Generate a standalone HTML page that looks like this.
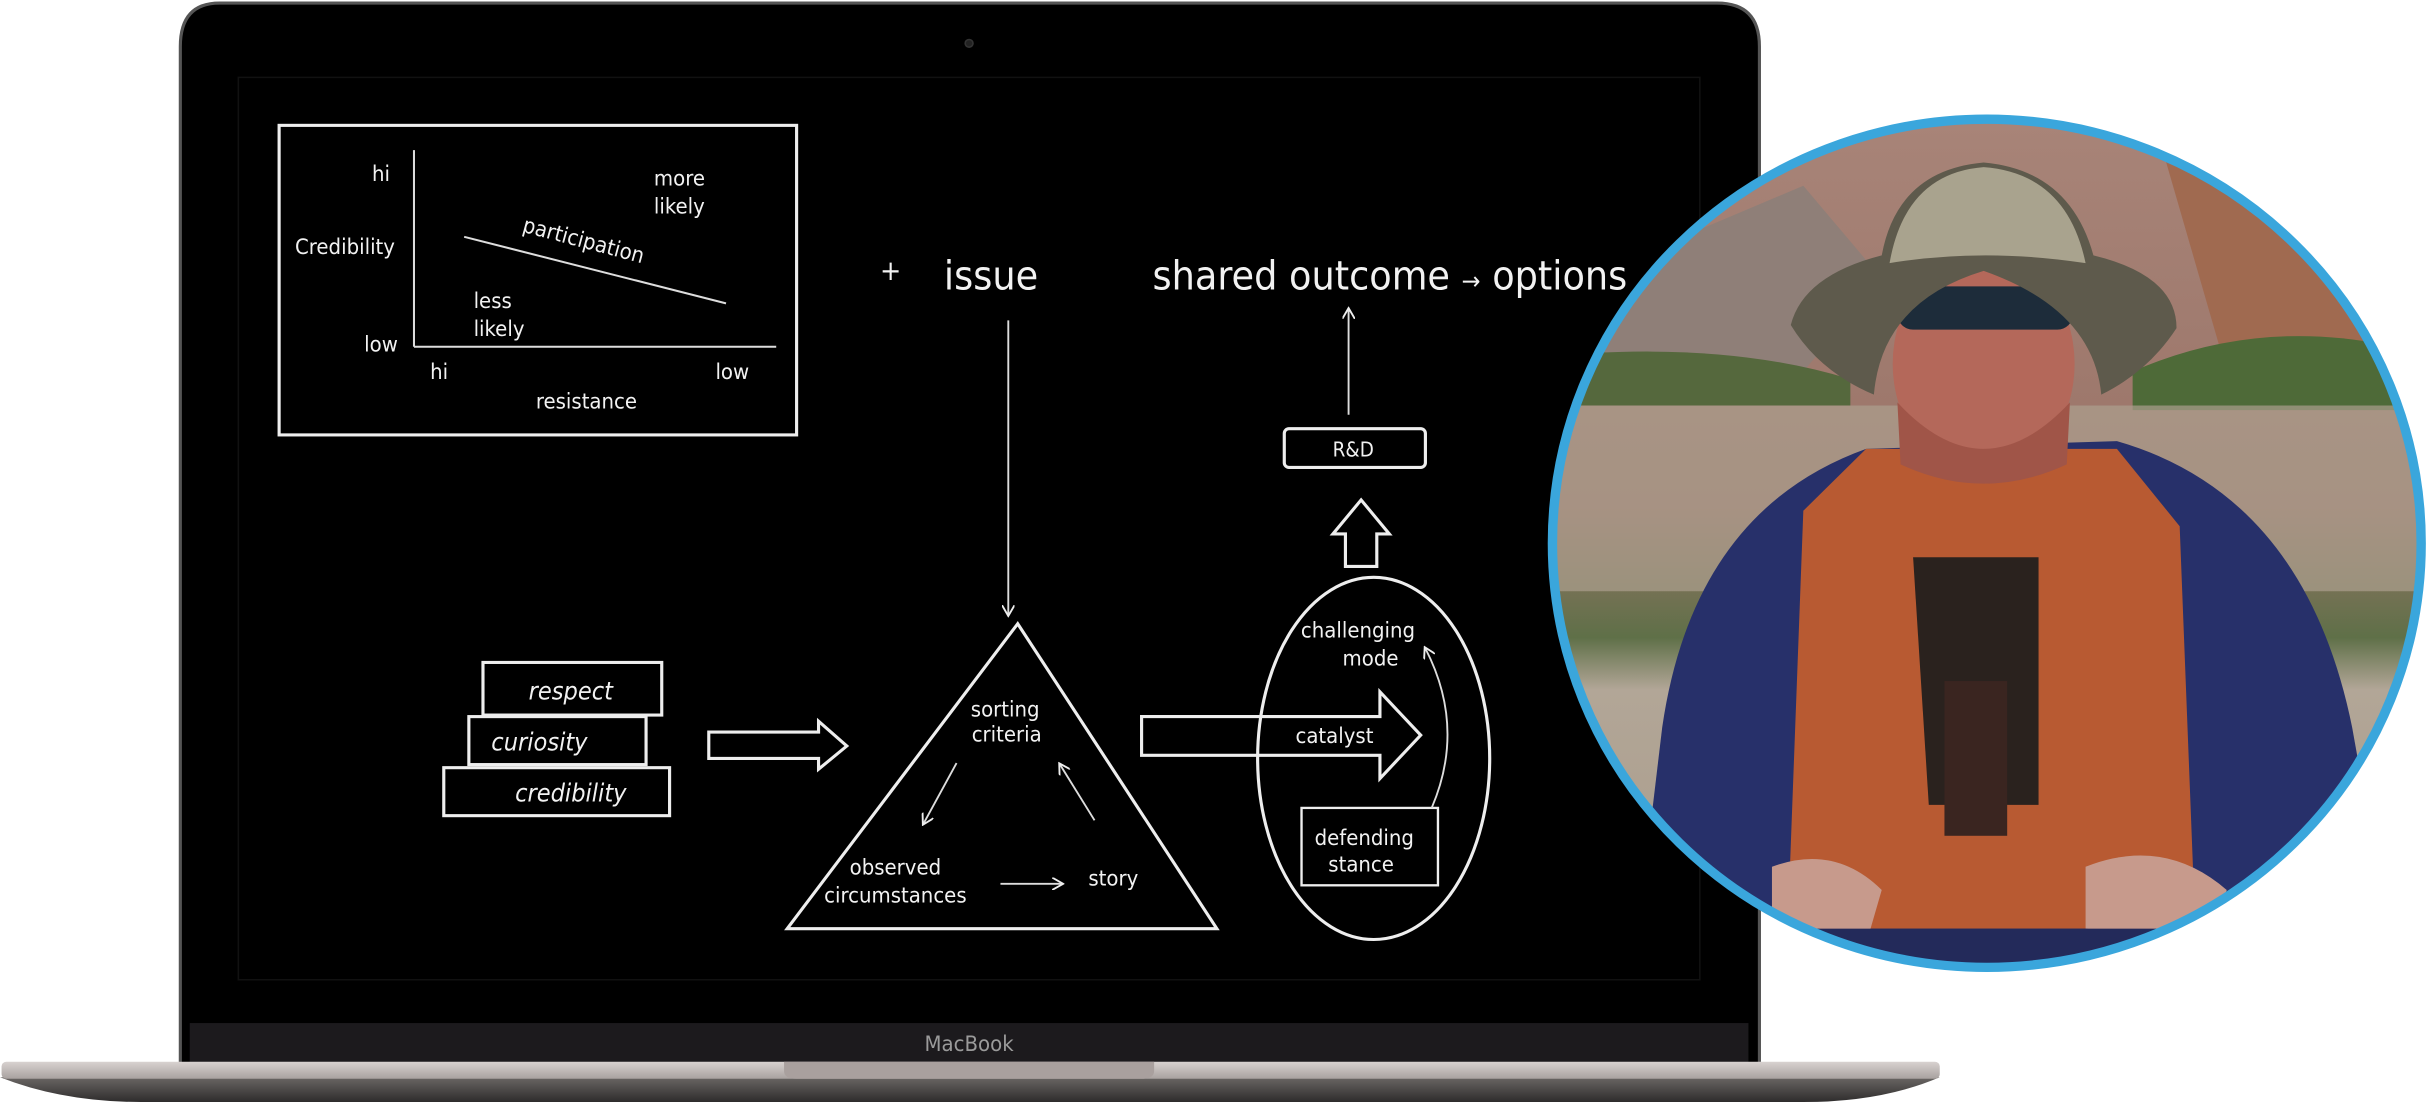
<!DOCTYPE html>
<html><head><meta charset="utf-8"><style>
html,body{margin:0;padding:0;background:#fff;}
svg{display:block}
text{font-family:"DejaVu Sans Condensed","Liberation Sans Narrow","Liberation Sans",sans-serif;fill:#f2f2f2}
</style></head><body>
<svg width="2429" height="1102" viewBox="0 0 1549 712" preserveAspectRatio="none" xmlns="http://www.w3.org/2000/svg">
<defs>
<linearGradient id="base" x1="0" y1="0" x2="0" y2="1">
<stop offset="0" stop-color="#6a6664"/><stop offset="1" stop-color="#2e2c2c"/></linearGradient>
<linearGradient id="rim" x1="0" y1="0" x2="0" y2="1">
<stop offset="0" stop-color="#d8d2d0"/><stop offset="1" stop-color="#a8a19f"/></linearGradient>
<linearGradient id="sky" x1="0" y1="0" x2="0" y2="1">
<stop offset="0" stop-color="#a88478"/><stop offset="0.45" stop-color="#9a7468"/><stop offset="0.6" stop-color="#5f7048"/><stop offset="0.66" stop-color="#b2a697"/><stop offset="1" stop-color="#a89a88"/></linearGradient>
<clipPath id="cc"><ellipse cx="1267" cy="351" rx="275" ry="272"/></clipPath>
<marker id="ah" markerWidth="8" markerHeight="8" refX="6" refY="4" orient="auto" markerUnits="userSpaceOnUse"><path d="M0,0 L7,4 L0,8" fill="none" stroke="#eee" stroke-width="1.2"/></marker>
</defs>
<path d="M140,2 H1095 Q1122,2 1122,30 V690 H115 V30 Q115,2 140,2 Z" fill="#000" stroke="#555" stroke-width="2"/>
<rect x="152" y="50" width="932" height="583" fill="#000" stroke="#111" stroke-width="1"/>
<circle cx="618" cy="28" r="2.5" fill="#222" stroke="#333"/>
<rect x="121" y="661" width="994" height="26" fill="#1c1a1d"/>
<text x="618" y="679" font-size="14" text-anchor="middle" style="fill:#9a9a9a">MacBook</text>
<path d="M0,696 H1237 Q1200,712 1150,712 H90 Q40,712 0,696 Z" fill="url(#base)"/>
<rect x="1" y="686" width="1236" height="11" rx="3" fill="url(#rim)"/>
<path d="M500,686 H736 V692 Q736,697 728,697 H508 Q500,697 500,692 Z" fill="#a9a09e"/>
<rect x="178" y="81" width="330" height="200" fill="none" stroke="#eee" stroke-width="2"/>
<line x1="264" y1="97" x2="264" y2="224" stroke="#ddd" stroke-width="1.3"/>
<line x1="264" y1="224" x2="495" y2="224" stroke="#ddd" stroke-width="1.3"/>
<line x1="296" y1="153" x2="463" y2="196" stroke="#ddd" stroke-width="1.3"/>
<g font-size="14">
<text x="243" y="117" text-anchor="middle">hi</text>
<text x="220" y="164" text-anchor="middle">Credibility</text>
<text x="243" y="227" text-anchor="middle">low</text>
<text x="417" y="120">more</text><text x="417" y="138">likely</text>
<text x="302" y="199">less</text><text x="302" y="217">likely</text>
<text x="280" y="245" text-anchor="middle">hi</text>
<text x="467" y="245" text-anchor="middle">low</text>
<text x="374" y="264" text-anchor="middle">resistance</text>
<text x="372" y="160" text-anchor="middle" transform="rotate(15 372 156)">participation</text>
</g>
<text x="568" y="181" font-size="18" text-anchor="middle">+</text>
<text x="632" y="187" font-size="26" text-anchor="middle">issue</text>
<text x="735" y="187" font-size="26">shared outcome <tspan font-size="16">→</tspan> options</text>
<line x1="643" y1="207" x2="643" y2="397" stroke="#ddd" stroke-width="1.2" marker-end="url(#ah)"/>
<polygon points="649,403 502,600 776,600" fill="none" stroke="#eee" stroke-width="2"/>
<g font-size="14">
<text x="641" y="463" text-anchor="middle">sorting</text>
<text x="642" y="479" text-anchor="middle">criteria</text>
<text x="571" y="565" text-anchor="middle">observed</text>
<text x="571" y="583" text-anchor="middle">circumstances</text>
<text x="710" y="572" text-anchor="middle">story</text>
</g>
<line x1="610" y1="493" x2="589" y2="532" stroke="#ddd" stroke-width="1.2" marker-end="url(#ah)"/>
<line x1="698" y1="530" x2="676" y2="494" stroke="#ddd" stroke-width="1.2" marker-end="url(#ah)"/>
<line x1="638" y1="571" x2="677" y2="571" stroke="#ddd" stroke-width="1.2" marker-end="url(#ah)"/>
<g fill="none" stroke="#eee" stroke-width="2">
<rect x="308" y="428" width="114" height="34"/>
<rect x="299" y="463" width="113" height="31"/>
<rect x="283" y="496" width="144" height="31"/>
</g>
<g font-size="16" font-style="italic">
<text x="364" y="452" text-anchor="middle">respect</text>
<text x="344" y="485" text-anchor="middle">curiosity</text>
<text x="364" y="518" text-anchor="middle">credibility</text>
</g>
<path d="M452,473 H522 V466 L540,482 L522,497 V490 H452 Z" fill="none" stroke="#eee" stroke-width="2"/>
<ellipse cx="876" cy="490" rx="74" ry="117" fill="none" stroke="#eee" stroke-width="2"/>
<path d="M728,463 H880 V447 L906,475 L880,503 V488 H728 Z" fill="none" stroke="#eee" stroke-width="2"/>
<text x="851" y="480" font-size="14" text-anchor="middle">catalyst</text>
<text x="866" y="412" font-size="14" text-anchor="middle">challenging</text>
<text x="874" y="430" font-size="14" text-anchor="middle">mode</text>
<rect x="830" y="522" width="87" height="50" fill="none" stroke="#eee" stroke-width="1.5"/>
<text x="870" y="546" font-size="14" text-anchor="middle">defending</text>
<text x="868" y="563" font-size="14" text-anchor="middle">stance</text>
<path d="M913,522 Q935,470 909,419" fill="none" stroke="#ddd" stroke-width="1.2" marker-end="url(#ah)"/>
<path d="M858,366 V345 H850 L868,323 L886,345 H878 V366 Z" fill="none" stroke="#eee" stroke-width="2"/>
<rect x="819" y="277" width="90" height="25" rx="3" fill="none" stroke="#eee" stroke-width="2"/>
<text x="863" y="295" font-size="13" text-anchor="middle">R&amp;D</text>
<line x1="860" y1="268" x2="860" y2="200" stroke="#ddd" stroke-width="1.2" marker-end="url(#ah)"/>
<g clip-path="url(#cc)">
<rect x="990" y="76" width="560" height="560" fill="url(#sky)"/>
<path d="M990,230 L1080,150 L1150,120 L1200,180 L1150,240 L990,250 Z" fill="#8f7f78"/>
<path d="M1380,100 L1550,150 L1550,250 L1420,240 Z" fill="#a06a50"/>
<path d="M990,230 Q1100,220 1180,245 L1180,262 L990,262 Z" fill="#55683d"/>
<path d="M1360,240 Q1450,200 1550,230 L1550,265 L1360,265 Z" fill="#4e6a38"/>
<rect x="990" y="262" width="560" height="120" fill="#ada08f" opacity="0.7"/>
<path d="M1040,640 L1060,470 Q1080,330 1190,290 L1350,285 Q1470,320 1500,470 L1530,640 Z" fill="#27306a"/>
<path d="M1150,330 L1190,290 L1350,290 L1390,340 L1400,600 L1140,600 Z" fill="#b85a32"/>
<path d="M1220,360 L1300,360 L1300,520 L1230,520 Z" fill="#2a221e"/>
<rect x="1240" y="440" width="40" height="100" fill="#3a2520"/>
<path d="M1130,560 Q1170,545 1200,575 L1190,610 L1130,600 Z" fill="#c79a8c"/>
<path d="M1330,560 Q1380,540 1420,575 L1410,610 L1330,600 Z" fill="#c79a8c"/>
<rect x="1140" y="600" width="300" height="40" fill="#232a5a"/>
<ellipse cx="1265" cy="235" rx="58" ry="72" fill="#b4685a"/>
<path d="M1210,260 Q1265,320 1320,260 L1318,300 Q1265,325 1212,300 Z" fill="#a05548"/>
<rect x="1210" y="185" width="112" height="28" rx="10" fill="#1d2c3a"/>
<path d="M1142,210 Q1150,178 1200,165 Q1210,110 1265,105 Q1320,110 1335,165 Q1388,178 1388,212 Q1370,240 1340,255 Q1335,200 1265,175 Q1200,195 1195,255 Q1160,240 1142,210 Z" fill="#5e5a4c"/>
<path d="M1205,170 Q1215,112 1265,108 Q1318,112 1330,170 Q1265,160 1205,170 Z" fill="#a9a38e"/>
</g>
<ellipse cx="1267" cy="351" rx="277" ry="274" fill="none" stroke="#3aa6dc" stroke-width="6"/>
</svg>
</body></html>
